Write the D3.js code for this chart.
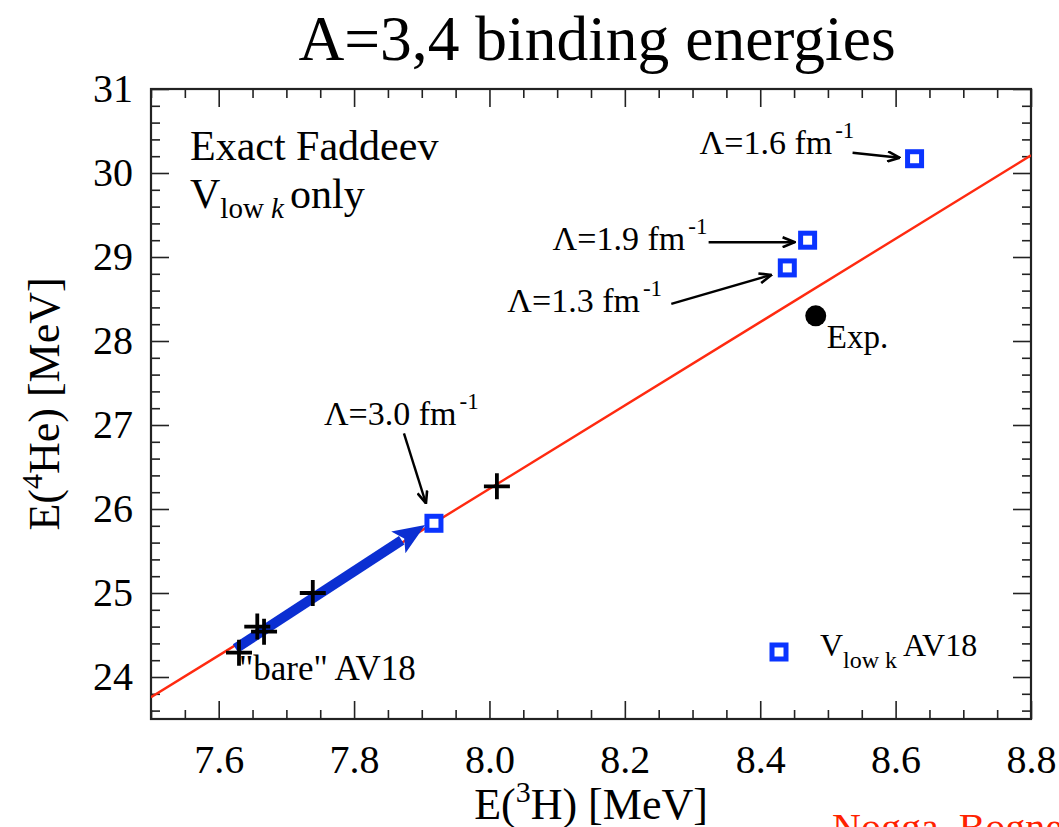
<!DOCTYPE html>
<html>
<head>
<meta charset="utf-8">
<script src="https://cdn.jsdelivr.net/npm/d3@7"></script>
<style>
  body { margin: 0; background: #fff; }
  text { font-family: "Liberation Serif", "Times New Roman", serif; fill: #000; }
</style>
</head>
<body>
<svg id="chart" width="1059" height="827"></svg>
<script>
// ---- data ----
const xDomain = [7.5, 8.8];              // E(3H) [MeV]
const yDomain = [23.5, 31];              // E(4He) [MeV]
const xMajorTicks = [7.6, 7.8, 8.0, 8.2, 8.4, 8.6, 8.8];
const yMajorTicks = [24, 25, 26, 27, 28, 29, 30, 31];

// Tjon line
const tjonX = [7.5, 8.8];
const tjonY = [23.76, 30.21];

// bare AV18 and other potentials (crosses)
const bareX = [7.630, 7.657, 7.667, 7.739, 8.011];
const bareY = [24.29, 24.60, 24.54, 25.00, 26.27];

// V_low k from AV18 at several cutoffs
const cutoffs = ["3.0", "1.3", "1.9", "1.6"];
const lowkX = [7.918, 8.440, 8.470, 8.628];
const lowkY = [25.83, 28.87, 29.20, 30.17];

// experiment
const expX = [8.482];
const expY = [28.30];

// RG flow from bare AV18 to V_low k (Lambda = 3.0)
const flowX = [7.625, 7.905];
const flowY = [24.34, 25.81];

// ---- drawing ----
const svg = d3.select("#chart");
const margin = { left: 151, right: 1031, top: 89, bottom: 719 };
const x = d3.scaleLinear().domain(xDomain).range([margin.left, margin.right]);
const y = d3.scaleLinear().domain(yDomain).range([margin.bottom, margin.top]);
const W = margin.right - margin.left, H = margin.bottom - margin.top;

const BLUE = "#0a34ff", RED = "#ff2a10", FLOW = "#0b2fd2";

// title
svg.append("text").attr("x", 597).attr("y", 60).attr("text-anchor", "middle")
  .style("font-size", "63.5px").text("A=3,4 binding energies");

// ticks (inward, on all four sides)
const xMinor = d3.range(7.5, 8.8001, 0.05).filter(v => !xMajorTicks.some(m => Math.abs(m - v) < 1e-6));
const yMinor = d3.range(23.6, 31.0001, 0.2).filter(v => !yMajorTicks.some(m => Math.abs(m - v) < 1e-6));
const MAJ = 18, MIN = 9;

function axisSet(axisFn, scale, major, minor, transform, showLabels, flip) {
  const gMaj = svg.append("g").attr("transform", transform)
    .call(axisFn(scale).tickValues(major).tickSize(flip ? MAJ : -MAJ).tickPadding(showLabels ? 26 : 0)
      .tickFormat(showLabels ? (axisFn === d3.axisBottom ? d3.format(".1f") : d3.format("d")) : ""));
  const gMin = svg.append("g").attr("transform", transform)
    .call(axisFn(scale).tickValues(minor).tickSize(flip ? MIN : -MIN).tickFormat(""));
  [gMaj, gMin].forEach(g => {
    g.select(".domain").remove();
    g.selectAll("line").attr("stroke", "#222").attr("stroke-width", 1.6);
  });
  gMaj.selectAll("text").style("font-size", "40px").attr("fill", "#000");
  return gMaj;
}
axisSet(d3.axisBottom, x, xMajorTicks, xMinor, `translate(0,${margin.bottom})`, true, false);
axisSet(d3.axisBottom, x, xMajorTicks, xMinor, `translate(0,${margin.top})`, false, true);
const gLeft = axisSet(d3.axisLeft, y, yMajorTicks, yMinor, `translate(${margin.left},0)`, true, false);
gLeft.selectAll("text").attr("x", -18);
axisSet(d3.axisLeft, y, yMajorTicks, yMinor, `translate(${margin.right},0)`, false, true);

// frame
svg.append("rect").attr("x", margin.left).attr("y", margin.top).attr("width", W).attr("height", H)
  .attr("fill", "none").attr("stroke", "#222").attr("stroke-width", 2.2);

// axis titles
const xt = svg.append("text").attr("x", 591).attr("y", 819).attr("text-anchor", "middle").style("font-size", "44px");
xt.append("tspan").text("E(");
xt.append("tspan").attr("dy", -17).style("font-size", "30px").text("3");
xt.append("tspan").attr("dy", 17).text("H) [MeV]");

const yt = svg.append("text").attr("transform", "translate(59,404) rotate(-90)").attr("text-anchor", "middle").style("font-size", "44px");
yt.append("tspan").text("E(");
yt.append("tspan").attr("dy", -17).style("font-size", "30px").text("4");
yt.append("tspan").attr("dy", 17).text("He) [MeV]");

// clip for data
svg.append("clipPath").attr("id", "plotClip").append("rect")
  .attr("x", margin.left).attr("y", margin.top).attr("width", W).attr("height", H);
const plot = svg.append("g").attr("clip-path", "url(#plotClip)");

// Tjon line
plot.append("path").datum(d3.zip(tjonX, tjonY))
  .attr("d", d3.line().x(d => x(d[0])).y(d => y(d[1])))
  .attr("fill", "none").attr("stroke", RED).attr("stroke-width", 2.4);

// flow arrow (thick blue)
{
  const x0 = x(flowX[0]), y0 = y(flowY[0]), x1 = x(flowX[1]), y1 = y(flowY[1]);
  const L = Math.hypot(x1 - x0, y1 - y0), ux = (x1 - x0) / L, uy = (y1 - y0) / L;
  const headLen = 32, headHalf = 13;
  const bx = x1 - ux * headLen, by = y1 - uy * headLen;
  plot.append("line").attr("x1", x0).attr("y1", y0).attr("x2", bx + ux * 4).attr("y2", by + uy * 4)
    .attr("stroke", FLOW).attr("stroke-width", 10);
  plot.append("path")
    .attr("d", `M${x1},${y1}L${bx - uy * headHalf},${by + ux * headHalf}L${bx + ux * 7},${by + uy * 7}L${bx + uy * headHalf},${by - ux * headHalf}Z`)
    .attr("fill", FLOW);
}

// crosses
plot.selectAll(".cross").data(d3.zip(bareX, bareY)).join("path").attr("class", "cross")
  .attr("d", d => { const cx = x(d[0]), cy = y(d[1]), a = 13; return `M${cx - a},${cy}H${cx + a}M${cx},${cy - a}V${cy + a}`; })
  .attr("stroke", "#000").attr("stroke-width", 3.8).attr("fill", "none");

// V_low k squares
plot.selectAll(".lowk").data(d3.zip(lowkX, lowkY)).join("rect").attr("class", "lowk")
  .attr("x", d => x(d[0]) - 7).attr("y", d => y(d[1]) - 7).attr("width", 14).attr("height", 14)
  .attr("fill", "#fff").attr("stroke", BLUE).attr("stroke-width", 5);

// experiment
plot.selectAll(".exp").data(d3.zip(expX, expY)).join("circle").attr("class", "exp")
  .attr("cx", d => x(d[0])).attr("cy", d => y(d[1])).attr("r", 10.5).attr("fill", "#000");
svg.append("text").attr("x", x(expX[0]) + 11).attr("y", y(expY[0]) + 32).style("font-size", "33px").text("Exp.");

// callouts for cutoffs
svg.append("defs").append("marker").attr("id", "head").attr("viewBox", "0 0 14 12")
  .attr("refX", 13).attr("refY", 6).attr("markerWidth", 14).attr("markerHeight", 12)
  .attr("markerUnits", "userSpaceOnUse").attr("orient", "auto")
  .append("path").attr("d", "M1,1L13,6L1,11").attr("fill", "none").attr("stroke", "#000").attr("stroke-width", 2.6);

const callout = {
  "3.0": { tx: -110, ty: -98, a: [-30, -90, -8, -20] },
  "1.3": { tx: -280, ty: 44, a: [-116, 36, -16, 7] },
  "1.9": { tx: -255, ty: 10, a: [-99, 2, -13, 2] },
  "1.6": { tx: -215, ty: -5, a: [-62, -6, -15, -1] }
};
cutoffs.forEach((c, i) => {
  const px = x(lowkX[i]), py = y(lowkY[i]), o = callout[c];
  const t = svg.append("text").attr("x", px + o.tx).attr("y", py + o.ty).style("font-size", "34px");
  t.append("tspan").text(`\u039B=${c} fm`);
  t.append("tspan").attr("dx", 3).attr("dy", -16).style("font-size", "23px").text("-1");
  svg.append("line").attr("x1", px + o.a[0]).attr("y1", py + o.a[1]).attr("x2", px + o.a[2]).attr("y2", py + o.a[3])
    .attr("stroke", "#000").attr("stroke-width", 2.4).attr("marker-end", "url(#head)");
});

// bare AV18 label
svg.append("text").attr("x", x(bareX[0])).attr("y", y(bareY[0]) + 27).style("font-size", "35px").text("\"bare\" AV18");

// in-plot notes
svg.append("text").attr("x", 190).attr("y", 160).style("font-size", "42px").text("Exact Faddeev");
const note = svg.append("text").attr("x", 190).attr("y", 208).style("font-size", "42px");
note.append("tspan").text("V");
note.append("tspan").attr("dy", 10).style("font-size", "29px").text("low ");
note.append("tspan").style("font-size", "29px").style("font-style", "italic").text("k");
note.append("tspan").attr("dy", -10).attr("dx", 6).text("only");

// legend
svg.append("rect").attr("x", 772).attr("y", 645).attr("width", 14).attr("height", 14)
  .attr("fill", "#fff").attr("stroke", BLUE).attr("stroke-width", 5);
const lg = svg.append("text").attr("x", 820).attr("y", 656).style("font-size", "32px");
lg.append("tspan").text("V");
lg.append("tspan").attr("dy", 12).style("font-size", "24px").text("low k");
lg.append("tspan").attr("dy", -12).attr("dx", 6).text("AV18");

// reference
svg.append("text").attr("x", 832).attr("y", 841).style("font-size", "40px").style("fill", "#ff2200")
  .text("Nogga, Bogner, Schwenk");
</script>
</body>
</html>
